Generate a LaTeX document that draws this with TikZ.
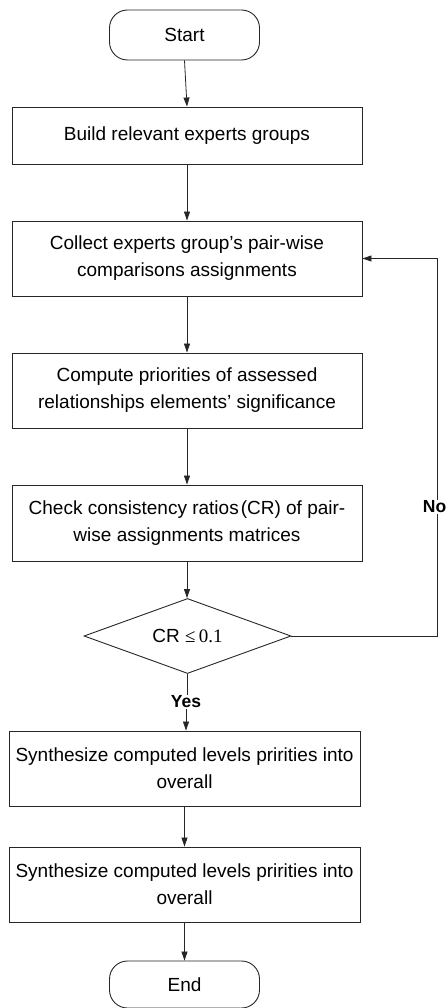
\documentclass[tikz,border=0pt]{standalone}
\usepackage{fontspec}
\setmainfont{Liberation Sans}
\newfontfamily\timesfont{Liberation Serif}
\usetikzlibrary{arrows.meta,shapes.geometric}

\begin{document}
\begin{tikzpicture}[x=1pt,y=-1pt,
  every node/.style={font=\fontsize{19}{27}\selectfont},
  procbox/.style={draw=black!85,line width=0.9pt,minimum width=350pt,minimum height=75pt,align=center,inner sep=0pt},
  termbox/.style={draw=black!85,line width=0.9pt,rounded corners=18pt,minimum width=150pt,minimum height=50pt,inner sep=0pt},
  decbox/.style={draw=black!85,line width=0.9pt,diamond,aspect=2.76,minimum width=207pt,minimum height=75pt,inner sep=0pt},
  flow/.style={draw=black!85,line width=0.8pt,-{Triangle[width=6pt,length=9pt]}},
  plain/.style={draw=black!85,line width=0.8pt},
  lbl/.style={font=\fontsize{17.5}{20}\selectfont\bfseries,fill=white,inner sep=1pt}
]
\useasboundingbox (0,0) rectangle (447,1008);

% process steps
\node[termbox] (start) at (184.5,35) {Start};
\node[procbox,minimum height=57pt] (b1) at (187,135.5) {Build relevant experts groups};
\node[procbox] (b2) at (187,258.5) {Collect experts group’s pair-wise\\comparisons assignments};
\node[procbox] (b3) at (187,390.5) {Compute priorities of assessed\\relationships elements’ significance};
\node[procbox,minimum height=76pt] (b4) at (187,523) {Check consistency ratios\hspace{2pt}(CR) of pair-\\wise assignments matrices};
\node[decbox] (dec) at (187.5,636) {CR {\timesfont ≤\,0.1}};
\node[lbl] (yes) at (186,702) {Yes};
\node[procbox,minimum width=351pt] (b5) at (184.5,768.5) {Synthesize computed levels pririties into\\overall};
\node[procbox,minimum width=351pt] (b6) at (184.5,884.5) {Synthesize computed levels pririties into\\overall};
\node[termbox,minimum height=47pt] (end) at (184.5,984.5) {End};

% main flow
\draw[flow] (start.south) -- (b1.north);
\draw[flow] (b1) -- (b2);
\draw[flow] (b2) -- (b3);
\draw[flow] (b3) -- (b4);
\draw[flow] (b4.south) -- (b4.south |- dec.north);
\draw[plain] (dec.south) -- (dec.south |- yes.north);
\draw[flow] (yes.south) -- (yes.south |- b5.north);
\draw[flow] (b5.south) -- (b5.south |- b6.north);
\draw[flow] (b6.south) -- (b6.south |- end.north);

% loop back when the consistency check fails
\coordinate (turn) at (437,636);
\draw[flow] (dec.east) -- (turn) |- (b2.east);
\node[lbl,anchor=east,inner sep=0.5pt] (no) at (447,507) {No};
\end{tikzpicture}
\end{document}
